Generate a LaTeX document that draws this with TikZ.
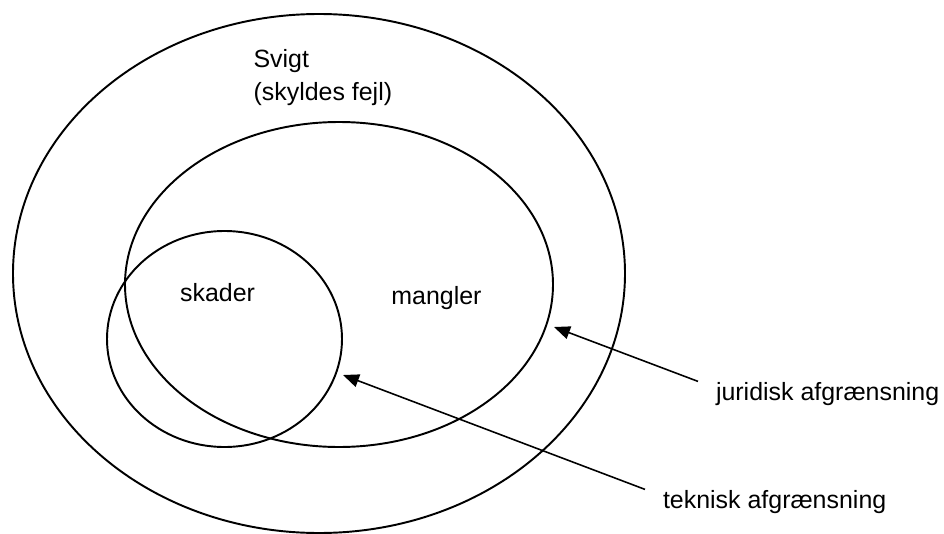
\documentclass[tikz,border=0pt]{standalone}
\usepackage{fontspec}
\setmainfont{Liberation Sans}
\usetikzlibrary{arrows.meta, positioning, calc}

\begin{document}
\begin{tikzpicture}
            [x=0.02cm, y=-0.02cm, semithick,
            txt/.style={font=\fontsize{14.2}{17.9}\selectfont, inner sep=0pt},
            pointer/.style={txt, anchor=base west, inner xsep=0.35cm},
            setline/.style={line width=1.1pt},
            arr/.style={-{Triangle[length=0.32cm, width=0.26cm]}, line width=0.9pt}]

            \useasboundingbox (0,0) rectangle (944,534);

            % the three sets
            \draw[setline] (319,273.5) ellipse [x radius=306, y radius=259.5];
            \draw[setline] (339,284.5) ellipse [x radius=214, y radius=162.5];
            \draw[setline] (224.5,339) ellipse [x radius=117.5, y radius=108];

            \node[txt, anchor=base west] (svigt) at (253,68) {Svigt};
            \node[txt, anchor=base west] (fejl) at (253,100) {(skyldes fejl)};
            \node[txt, anchor=base] (skader) at (217.5,301) {skader};
            \node[txt, anchor=base] (mangler) at (436.5,304) {mangler};

            \node[pointer] (jur) at (698,400) {juridisk afgrænsning};
            \node[pointer] (tek) at (645,508) {teknisk afgrænsning};

            \coordinate (jurtip) at (554,327);
            \coordinate (tektip) at (343,375);

            \draw[arr] (jur.north west) -- (jurtip);
            \draw[arr] (tek.north west) -- (tektip);

\end{tikzpicture}
\end{document}
